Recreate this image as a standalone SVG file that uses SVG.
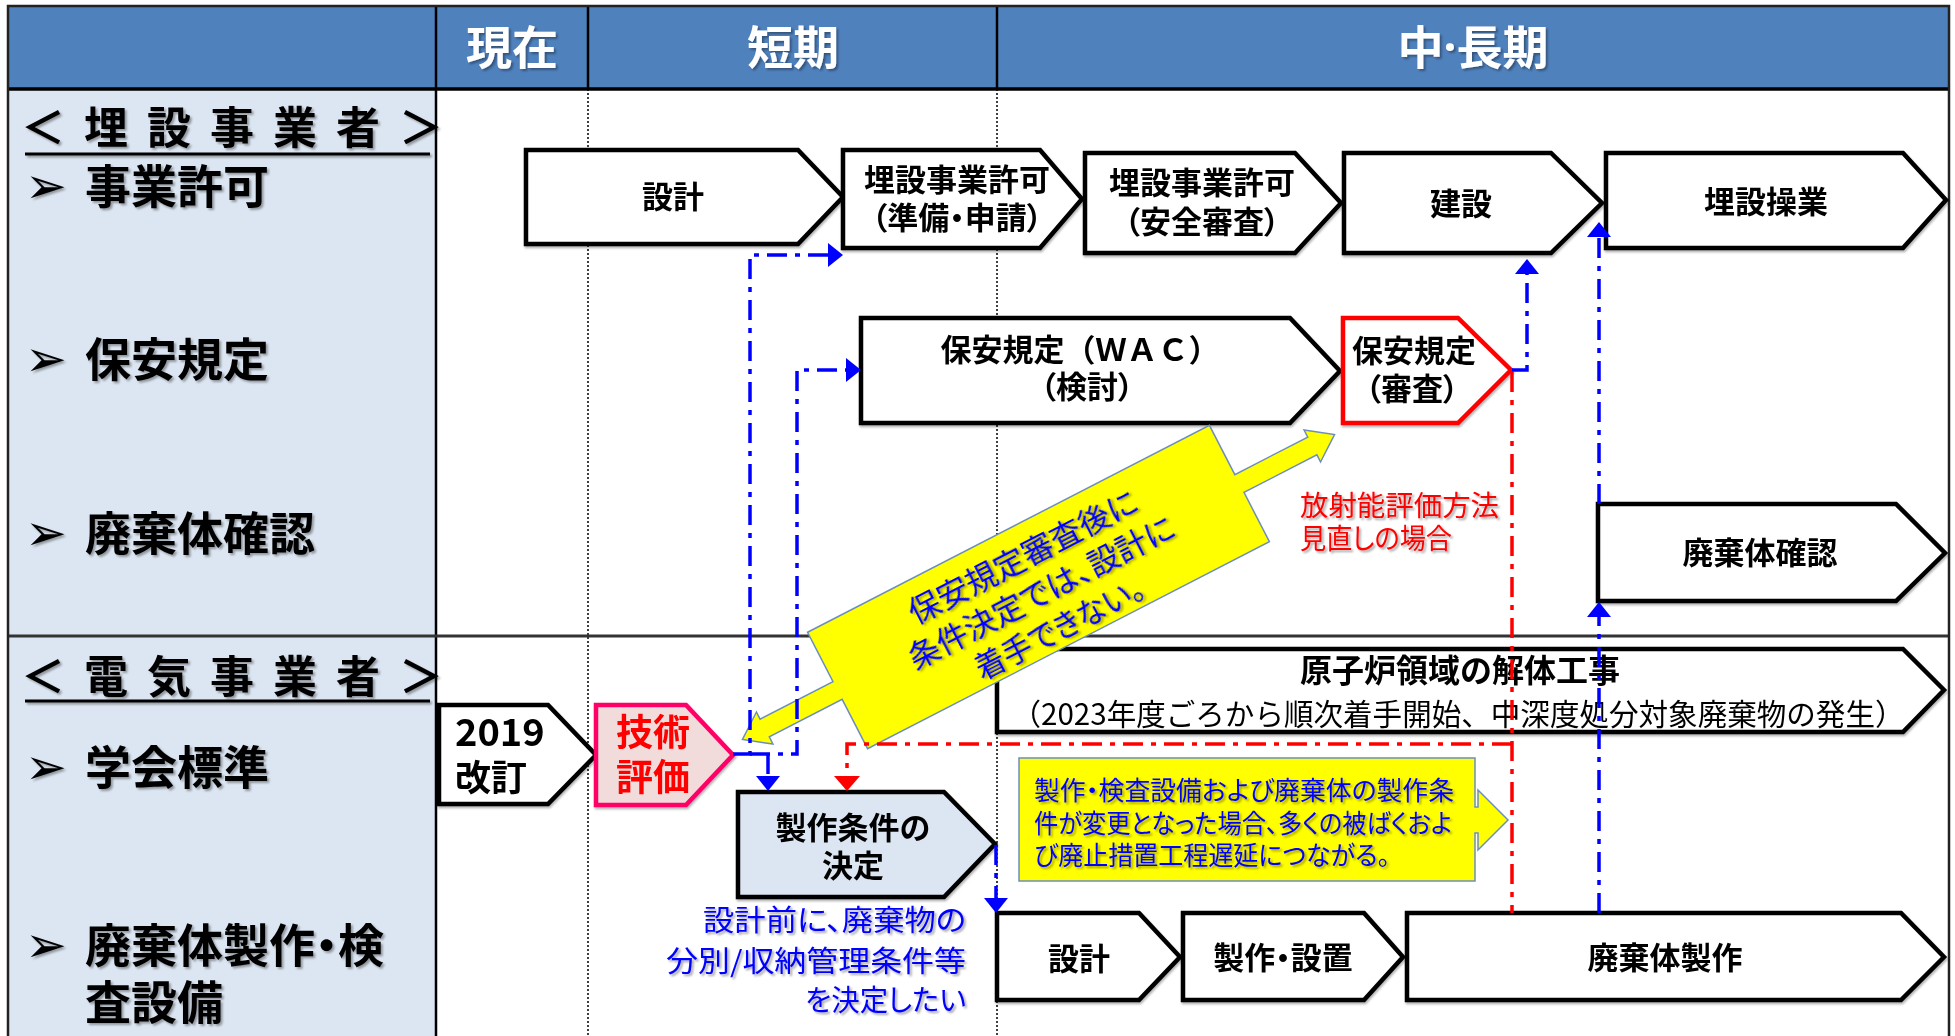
<svg xmlns="http://www.w3.org/2000/svg" width="1955" height="1036" viewBox="0 0 1955 1036">
<style>
.jp{font-family:"Noto Sans CJK JP","Noto Sans",sans-serif;}
.b{font-weight:700;}
.pal{font-feature-settings:"palt";}
.node{fill:#fff;stroke:#000;stroke-width:4.5;stroke-linejoin:miter;}
.nt{font-family:"Noto Sans CJK JP","Noto Sans",sans-serif;font-weight:700;font-size:31px;fill:#000;text-anchor:middle;}
.lbl{font-family:"Noto Sans CJK JP","Noto Sans",sans-serif;font-weight:700;font-size:46px;fill:#000;}
.bul{font-family:"DejaVu Sans",sans-serif;font-size:50px;fill:#000;}
.hd{font-family:"Noto Sans CJK JP","Noto Sans",sans-serif;font-weight:700;font-size:46px;fill:#fff;text-anchor:middle;}
.cb{fill:none;stroke:#0000FF;stroke-width:3.5;stroke-dasharray:20 8 5 8;}
.cr{fill:none;stroke:#FF0000;stroke-width:3.5;stroke-dasharray:20 8 5 8;}
.blue{fill:#0000FF;}
.red{fill:#FF0000;}
</style>
<defs>
<filter id="ts" x="-10%" y="-20%" width="130%" height="150%"><feDropShadow dx="2" dy="2" stdDeviation="1" flood-color="#000" flood-opacity="0.35"/></filter>
<filter id="ss" x="-5%" y="-10%" width="110%" height="130%"><feDropShadow dx="1" dy="2" stdDeviation="1" flood-color="#000" flood-opacity="0.3"/></filter>
<marker id="ab" viewBox="0 0 15 24" refX="0" refY="12" markerWidth="15" markerHeight="24" markerUnits="userSpaceOnUse" orient="auto"><path d="M0,0 L15,12 L0,24 z" fill="#0000FF"/></marker>
<marker id="ar" viewBox="0 0 15 26" refX="0" refY="13" markerWidth="15" markerHeight="26" markerUnits="userSpaceOnUse" orient="auto"><path d="M0,0 L15,13 L0,26 z" fill="#FF0000"/></marker>
</defs>

<!-- grid / table -->
<g id="table">
<rect x="8" y="89" width="428" height="950" fill="#DCE6F2"/>
<rect x="8" y="6" width="1941" height="83" fill="#4F81BD"/>
<line x1="588" y1="89" x2="588" y2="1036" stroke="#000" stroke-width="1.5" stroke-dasharray="2 2"/>
<line x1="997" y1="89" x2="997" y2="1036" stroke="#000" stroke-width="1.5" stroke-dasharray="2 2"/>
<line x1="436" y1="6" x2="436" y2="1036" stroke="#000" stroke-width="2.5"/>
<line x1="588" y1="6" x2="588" y2="89" stroke="#000" stroke-width="2.5"/>
<line x1="997" y1="6" x2="997" y2="89" stroke="#000" stroke-width="2.5"/>
<line x1="8" y1="89" x2="1949" y2="89" stroke="#000" stroke-width="3.5"/>
<line x1="8" y1="636" x2="1949" y2="636" stroke="#333" stroke-width="3"/>
<rect x="8" y="6" width="1941" height="1040" fill="none" stroke="#222" stroke-width="2.5"/>
<g filter="url(#ts)">
<text class="hd" x="512" y="64">現在</text>
<text class="hd" x="793" y="64">短期</text>
<text class="hd" x="1473" y="64">中<tspan font-family="Noto Sans">·</tspan>長期</text>
</g>
</g>

<!-- left labels -->
<g id="labels" filter="url(#ts)">
<text class="lbl" x="21" y="144" letter-spacing="19" style="font-size:44px">＜埋設事業者＞</text>
<line x1="25" y1="154" x2="430" y2="154" stroke="#000" stroke-width="3"/>
<text class="bul" x="25" y="203">➢</text>
<text class="lbl" x="85" y="203">事業許可</text>
<text class="bul" x="25" y="376">➢</text>
<text class="lbl" x="85" y="376">保安規定</text>
<text class="bul" x="25" y="550">➢</text>
<text class="lbl" x="85" y="550">廃棄体確認</text>
<text class="lbl" x="21" y="693" letter-spacing="19" style="font-size:44px">＜電気事業者＞</text>
<line x1="25" y1="701" x2="430" y2="701" stroke="#000" stroke-width="3"/>
<text class="bul" x="25" y="784">➢</text>
<text class="lbl" x="85" y="784">学会標準</text>
<text class="bul" x="25" y="962">➢</text>
<text class="lbl pal" x="85" y="962">廃棄体製作・検</text>
<text class="lbl" x="85" y="1019">査設備</text>
</g>

<!-- nodes row 1 -->
<g id="n-sekkei1" filter="url(#ss)">
<polygon class="node" points="526,150 798,150 843,197 798,244 526,244"/>
<text class="nt" x="673" y="208">設計</text>
</g>
<g id="n-kyoka1" filter="url(#ss)">
<polygon class="node" points="843,150 1040,150 1082,199 1040,248 843,248"/>
<text class="nt" x="957" y="191">埋設事業許可</text>
<text class="nt pal" x="957" y="229">（準備・申請）</text>
</g>
<g id="n-kyoka2" filter="url(#ss)">
<polygon class="node" points="1085,153 1295,153 1341,203 1295,253 1085,253"/>
<text class="nt" x="1202" y="194">埋設事業許可</text>
<text class="nt pal" x="1202" y="233">（安全審査）</text>
</g>
<g id="n-kensetsu" filter="url(#ss)">
<polygon class="node" points="1344,153 1551,153 1602,203 1551,253 1344,253"/>
<text class="nt" x="1461" y="215">建設</text>
</g>
<g id="n-sougyou" filter="url(#ss)">
<polygon class="node" points="1606,153 1903,153 1946,200 1903,248 1606,248"/>
<text class="nt" x="1766" y="213">埋設操業</text>
</g>

<!-- nodes row 2 -->
<g id="n-wac" filter="url(#ss)">
<polygon class="node" points="861,318 1290,318 1340,371 1290,423 861,423"/>
<text class="nt" x="1080" y="361">保安規定（ＷＡＣ）</text>
<text class="nt pal" x="1087" y="398">（検討）</text>
</g>
<g id="n-shinsa" filter="url(#ss)">
<polygon class="node" style="stroke:#FF0000" points="1343,318 1458,318 1511,370 1458,423 1343,423"/>
<text class="nt" x="1414" y="362">保安規定</text>
<text class="nt pal" x="1412" y="400">（審査）</text>
</g>

<!-- row 3 -->
<g id="n-kakunin" filter="url(#ss)">
<polygon class="node" points="1598,504 1896,504 1945,553 1896,601 1598,601"/>
<text class="nt" x="1760" y="564">廃棄体確認</text>
</g>

<!-- row 4 -->
<g id="n-kaitai" filter="url(#ss)">
<polygon class="node" points="997,649 1903,649 1944,690 1903,732 997,732"/>
<text class="nt" x="1460" y="682" style="font-size:32px">原子炉領域の解体工事</text>
<text class="jp" x="1458" y="725" text-anchor="middle" font-size="30" textLength="893" lengthAdjust="spacingAndGlyphs" fill="#000">（2023年度ごろから順次着手開始、中深度処分対象廃棄物の発生）</text>
</g>
<g id="n-2019" filter="url(#ss)">
<polygon class="node" points="439,705 548,705 596,755 548,804 439,804"/>
<text class="jp b" x="455" y="746" font-size="38" fill="#000">2019</text>
<text class="jp b" x="455" y="791" font-size="36" fill="#000">改訂</text>
</g>
<g id="n-gijutsu" filter="url(#ss)">
<polygon class="node" style="fill:#F2DCDB;stroke:#FF0066" points="596,705 686,705 733,755 686,805 596,805"/>
<text class="jp b red" x="653" y="746" font-size="37" text-anchor="middle">技術</text>
<text class="jp b red" x="653" y="791" font-size="37" text-anchor="middle">評価</text>
</g>
<g id="n-seisaku-jouken" filter="url(#ss)">
<polygon class="node" style="fill:#DCE6F2" points="738,792 944,792 995,844 944,897 738,897"/>
<text class="nt" x="853" y="839">製作条件の</text>
<text class="nt" x="853" y="877">決定</text>
</g>

<!-- row 5 -->
<g id="n-sekkei2" filter="url(#ss)">
<polygon class="node" points="997,913 1139,913 1180,957 1139,1000 997,1000"/>
<text class="nt" x="1079" y="970">設計</text>
</g>
<g id="n-secchi" filter="url(#ss)">
<polygon class="node" points="1183,913 1364,913 1403,957 1364,1000 1183,1000"/>
<text class="nt pal" x="1283" y="969">製作・設置</text>
</g>
<g id="n-haikitai" filter="url(#ss)">
<polygon class="node" points="1407,913 1901,913 1944,957 1901,1000 1407,1000"/>
<text class="nt" x="1665" y="969">廃棄体製作</text>
</g>

<!-- annotations -->
<g id="note-red" filter="url(#ts)">
<text class="jp pal red" x="1300" y="516" font-size="28" textLength="199" lengthAdjust="spacingAndGlyphs">放射能評価方法</text>
<text class="jp pal red" x="1300" y="549" font-size="28" textLength="152" lengthAdjust="spacingAndGlyphs">見直しの場合</text>
</g>
<g id="note-blue" filter="url(#ts)">
<text class="jp pal blue" x="966" y="931" font-size="29" text-anchor="end" textLength="263" lengthAdjust="spacingAndGlyphs">設計前に、廃棄物の</text>
<text class="jp pal blue" x="966" y="972" font-size="29" text-anchor="end" textLength="300" lengthAdjust="spacingAndGlyphs">分別/収納管理条件等</text>
<text class="jp pal blue" x="966" y="1011" font-size="29" text-anchor="end" textLength="161" lengthAdjust="spacingAndGlyphs">を決定したい</text>
</g>
<g id="callout-change">
<polygon points="1019,758 1475,758 1475,807 1478,807 1478,790 1508,820 1478,850 1478,833 1475,833 1475,881 1019,881" fill="#FFFF00" stroke="#6C8EBF" stroke-width="1.5"/>
<g filter="url(#ts)">
<text class="jp pal blue" x="1034" y="800" font-size="26" textLength="420" lengthAdjust="spacingAndGlyphs">製作・検査設備および廃棄体の製作条</text>
<text class="jp pal blue" x="1034" y="833" font-size="26" textLength="418" lengthAdjust="spacingAndGlyphs">件が変更となった場合、多くの被ばくおよ</text>
<text class="jp pal blue" x="1034" y="865" font-size="26" textLength="356" lengthAdjust="spacingAndGlyphs">び廃止措置工程遅延につながる。</text>
</g>
</g>
<g id="callout-big" transform="translate(1038.5,587) rotate(-27.25)">
<polygon points="-226,-65.5 226,-65.5 226,-10 308,-10 308,-18 333,0 308,18 308,10 226,10 226,65.5 -226,65.5 -226,10 -308,10 -308,18 -333,0 -308,-18 -308,-10 -226,-10" fill="#FFFF00" stroke="#6C8EBF" stroke-width="1.5"/>
<g filter="url(#ts)">
<text class="jp pal blue" x="0" y="-23" font-size="31" text-anchor="middle" textLength="253" lengthAdjust="spacingAndGlyphs">保安規定審査後に</text>
<text class="jp pal blue" x="0" y="17" font-size="31" text-anchor="middle" textLength="295" lengthAdjust="spacingAndGlyphs">条件決定では、設計に</text>
<text class="jp pal blue" x="0" y="57" font-size="31" text-anchor="middle" textLength="186" lengthAdjust="spacingAndGlyphs">着手できない。</text>
</g>
</g>

<!-- connectors -->
<g id="connectors">
<path class="cb" d="M733,754 H750 V255 H828" marker-end="url(#ab)"/>
<path class="cb" d="M750,754 H797 V370 H846" marker-end="url(#ab)"/>
<path class="cb" d="M768,754 V776" marker-end="url(#ab)"/>
<path class="cb" d="M996,845 V898" marker-end="url(#ab)"/>
<path class="cb" d="M1512,370 H1527 V274" marker-end="url(#ab)"/>
<path class="cb" d="M1599,913 V617" marker-end="url(#ab)"/>
<path class="cb" d="M1599,504 V237" marker-end="url(#ab)"/>
<path class="cr" d="M1512,372 V913"/>
<path class="cr" d="M1512,744 H847 V776" marker-end="url(#ar)"/>
</g>
</svg>
